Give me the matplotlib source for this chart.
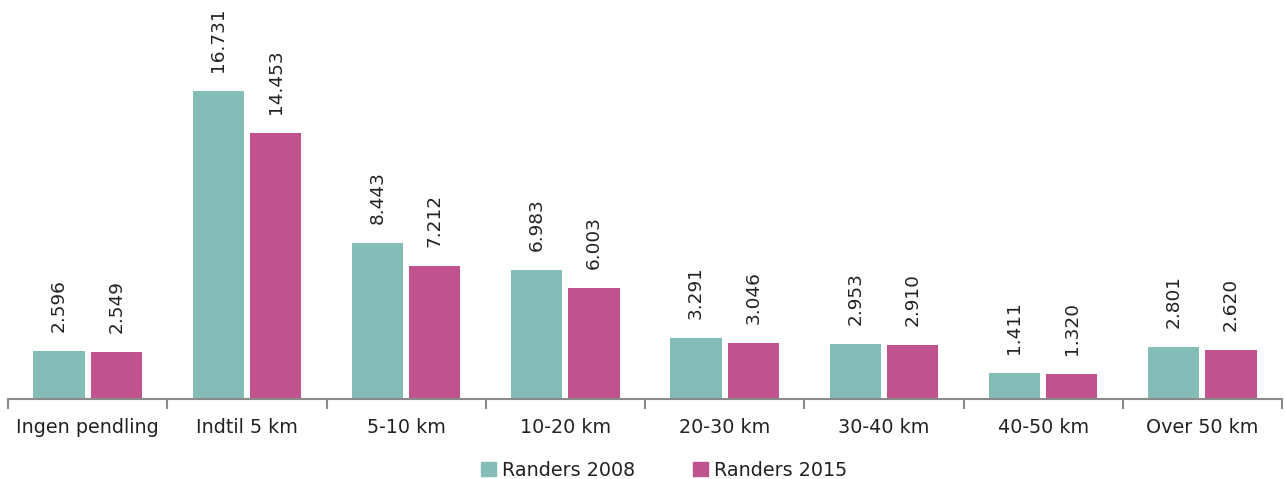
import numpy as np
import matplotlib
matplotlib.use('Agg')
import matplotlib.pyplot as plt
from matplotlib.patches import Patch

# Pendlingsafstand, Randers
categories = ['Ingen pendling', 'Indtil 5 km', '5-10 km', '10-20 km',
              '20-30 km', '30-40 km', '40-50 km', 'Over 50 km']
randers_2008 = [2596, 16731, 8443, 6983, 3291, 2953, 1411, 2801]
randers_2015 = [2549, 14453, 7212, 6003, 3046, 2910, 1320, 2620]

TEAL = '#84bcb7'
MAGENTA = '#c0538e'
AXIS_GREY = '#8a8a8a'
TEXT = '#222222'


def dk_fmt(v):
    return f'{v:,}'.replace(',', '.')


fig = plt.figure(figsize=(12.85, 4.79), dpi=100)
ax = fig.add_axes([8 / 1285, 1 - 398.5 / 479, 1274 / 1285, 398.5 / 479])

x = np.arange(len(categories))
w = 0.322
off = 0.18
b1 = ax.bar(x - off, randers_2008, w, color=TEAL, label='Randers 2008')
b2 = ax.bar(x + off, randers_2015, w, color=MAGENTA, label='Randers 2015')

for bars in (b1, b2):
    for rect in bars:
        h = rect.get_height()
        ax.annotate(dk_fmt(int(h)), (rect.get_x() + rect.get_width() / 2, h),
                    xytext=(0, 19), textcoords='offset pixels',
                    rotation=90, ha='center', va='bottom',
                    fontsize=13.3, color=TEXT)

ax.set_xlim(-0.5, len(categories) - 0.5)
ax.set_ylim(0, 21680)

for s in ('top', 'right', 'left'):
    ax.spines[s].set_visible(False)
ax.spines['bottom'].set_color(AXIS_GREY)
ax.spines['bottom'].set_linewidth(1.5)
ax.set_yticks([])

# Skillestreger mellem kategorier
ax.set_xticks(np.arange(len(categories) + 1) - 0.5, minor=False)
ax.set_xticklabels([])
ax.tick_params(axis='x', length=7, width=1.5, color=AXIS_GREY, direction='out')
ax.set_xticks(x, minor=True)
ax.set_xticklabels(categories, minor=True)
ax.tick_params(axis='x', which='minor', length=0, pad=14, labelsize=13.8,
               labelcolor=TEXT)

handles = [Patch(color=TEAL, label='Randers 2008'),
           Patch(color=MAGENTA, label='Randers 2015')]
fig.legend(handles=handles, loc='center', bbox_to_anchor=(664 / 1285, 1 - 470 / 479),
           ncol=2, frameon=False, fontsize=13.8, handlelength=0.8, handleheight=0.8,
           handletextpad=0.3, columnspacing=3.0, labelcolor=TEXT)

plt.savefig('out.png', dpi=100)
